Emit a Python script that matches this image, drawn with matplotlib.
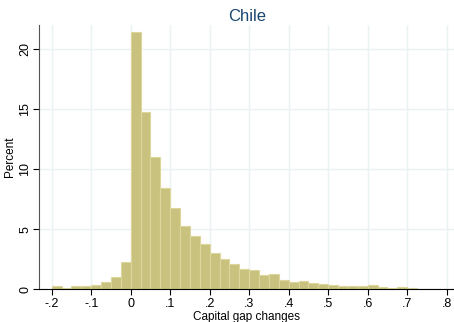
import numpy as np
import matplotlib
matplotlib.use('Agg')
import matplotlib.pyplot as plt

# histogram bins (left edges), width 0.025
bin_start = -0.2
bin_width = 0.025
percent = [0.28, 0.08, 0.28, 0.30, 0.36, 0.58, 1.03, 2.27,
           21.4, 14.73, 11.01, 8.43, 6.77, 5.27, 4.47, 3.77,
           3.02, 2.52, 2.11, 1.72, 1.61, 1.19, 1.28, 0.80,
           0.64, 0.69, 0.53, 0.44, 0.33, 0.30, 0.30, 0.30,
           0.36, 0.19, 0.11, 0.22, 0.08, 0.06, 0.06, 0.06]
xticks = [-0.2, -0.1, 0, 0.1, 0.2, 0.3, 0.4, 0.5, 0.6, 0.7, 0.8]
xticklabels = ['-.2', '-.1', '0', '.1', '.2', '.3', '.4', '.5', '.6', '.7', '.8']
yticks = [0, 5, 10, 15, 20]

plt.rcParams['font.family'] = ['Liberation Sans', 'DejaVu Sans']

fig = plt.figure(figsize=(4.54, 3.22), dpi=100)
ax = fig.add_axes([0.087, 0.1016, 0.913, 0.8204])

lefts = bin_start + bin_width * np.arange(len(percent))
ax.bar(lefts, percent, width=bin_width, align='edge',
       color='#c9c27e', edgecolor='#dcd69c', linewidth=0.8, zorder=2)

ax.set_xlim(-0.231, 0.8185)
ax.set_ylim(0, 22)
ax.set_xticks(xticks)
ax.set_xticklabels(xticklabels, fontsize=9)
ax.set_yticks(yticks)
ax.set_yticklabels([str(v) for v in yticks], fontsize=9, rotation=90, va='center')
ax.grid(True, color='#eaf2f3', linewidth=1, zorder=0)
ax.set_axisbelow(True)

for s in ['top', 'right']:
    ax.spines[s].set_visible(False)
ax.spines['left'].set_color('#555555')
ax.spines['bottom'].set_color('black')
ax.tick_params(length=4, width=0.8, pad=2)

ax.set_xlabel('Capital gap changes', fontsize=8.5, labelpad=1)
ax.set_ylabel('Percent', fontsize=8.5, labelpad=2)
ax.set_title('Chile', fontsize=12, color='#1a476f', pad=3)

fig.savefig('out.png', dpi=100)
